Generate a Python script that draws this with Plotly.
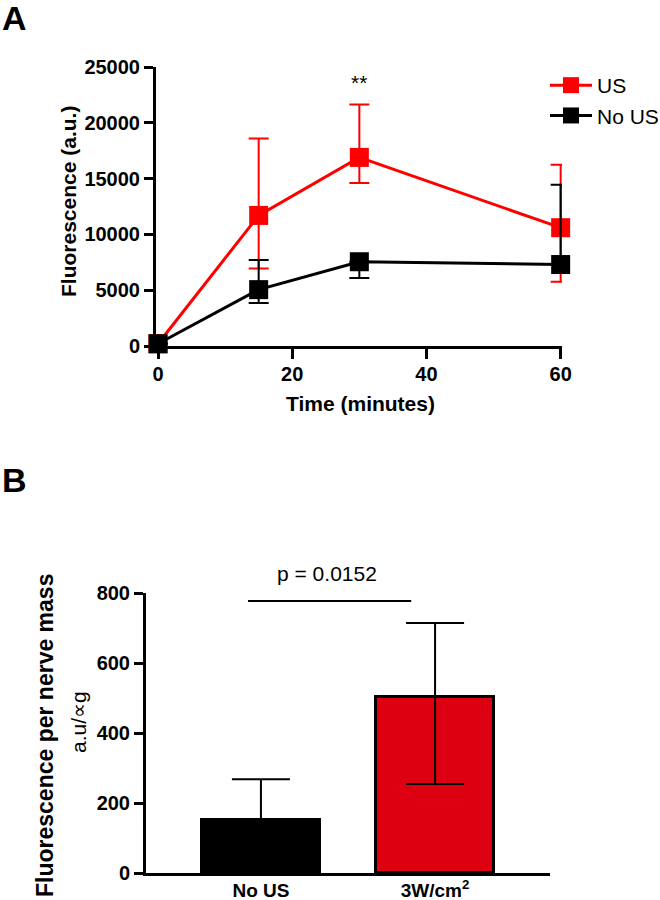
import plotly.graph_objects as go

# ---- Panel A data ----
time_min = [0, 15, 30, 60]
us_mean = [200, 11700, 16900, 10600]
us_err_plus = [0, 6900, 4750, 5650]
us_err_minus = [0, 4750, 2300, 4850]
nous_mean = [200, 5050, 7550, 7300]
nous_err_plus = [0, 2650, 0, 7150]
nous_err_minus = [0, 1200, 1450, 0]

# ---- Panel B data ----
groups = ["No US", "3W/cm<sup>2</sup>"]
bar_values = [151, 503]
bar_err_plus = [117, 211]
bar_err_minus = [117, 249]
bar_colors = ["#000000", "#DC0010"]

W, H = 660, 900
FONT = "Arial, Liberation Sans, sans-serif"
RED = "#FF0000"

def px_x(p):
    return p / W

def px_y(p):
    return (H - p) / H

fig = go.Figure()

fig.add_trace(go.Scatter(
    x=time_min, y=us_mean, name="US", mode="lines+markers",
    line=dict(color=RED, width=3),
    marker=dict(symbol="square", size=19, color=RED),
    error_y=dict(type="data", symmetric=False, array=us_err_plus,
                 arrayminus=us_err_minus, color=RED, thickness=2, width=10),
    cliponaxis=False, xaxis="x", yaxis="y", legendgroup="a",
))
fig.add_trace(go.Scatter(
    x=time_min, y=nous_mean, name="No US", mode="lines+markers",
    line=dict(color="#000000", width=3),
    marker=dict(symbol="square", size=19, color="#000000"),
    error_y=dict(type="data", symmetric=False, array=nous_err_plus,
                 arrayminus=nous_err_minus, color="#000000", thickness=2, width=10),
    cliponaxis=False, xaxis="x", yaxis="y", legendgroup="b",
))

fig.add_trace(go.Bar(
    x=groups, y=bar_values, width=0.68,
    marker=dict(color=bar_colors, line=dict(color="#000000", width=3)),
    error_y=dict(type="data", symmetric=False, array=bar_err_plus,
                 arrayminus=bar_err_minus, color="#000000", thickness=2, width=29),
    showlegend=False, cliponaxis=False, xaxis="x2", yaxis="y2",
))

def axis_common(size=20):
    return dict(showline=True, linewidth=3, linecolor="#000000",
                showgrid=False, zeroline=False, automargin=False,
                tickfont=dict(family=FONT, size=size, color="#000000", weight="bold"))

def ann(text, x, y, size, angle=0, xref="paper"):
    return dict(text=text, x=x, y=y, xref=xref, yref="paper", showarrow=False,
                xanchor="center", yanchor="middle", textangle=angle,
                font=dict(size=size, family=FONT, color="#000000"))

fig.update_layout(
    template="none",
    width=W, height=H,
    margin=dict(l=0, r=0, t=0, b=0, pad=0, autoexpand=False),
    paper_bgcolor="white", plot_bgcolor="white",
    font=dict(family=FONT, color="#000000"),
    bargap=0,
    xaxis=dict(domain=[px_x(156), px_x(562)], range=[-0.3, 60.2],
               tickvals=[0, 20, 40, 60], ticks="outside", ticklen=10, tickwidth=3,
               tickcolor="#000000", anchor="y", ticklabelstandoff=-2, **axis_common()),
    yaxis=dict(domain=[px_y(346), px_y(67)], range=[0, 25000],
               tickvals=[0, 5000, 10000, 15000, 20000, 25000], tickformat="d",
               ticks="outside", ticklen=9, tickwidth=3, tickcolor="#000000",
               anchor="x", **axis_common()),
    xaxis2=dict(domain=[px_x(146), px_x(550)], range=[-0.66, 1.66],
                ticks="", anchor="y2", type="category", ticklabelstandoff=-2,
                **axis_common(19)),
    yaxis2=dict(domain=[px_y(873), px_y(593)], range=[0, 800],
                tickvals=[0, 200, 400, 600, 800],
                ticks="outside", ticklen=9, tickwidth=3, tickcolor="#000000",
                anchor="x2", **axis_common()),
    legend=dict(x=px_x(545), y=px_y(65), xanchor="left", yanchor="top",
                font=dict(family=FONT, size=21, color="#000000"),
                bgcolor="rgba(0,0,0,0)", borderwidth=0, tracegroupgap=0,
                traceorder="grouped", itemwidth=42),
    shapes=[dict(type="line", xref="x2", yref="y2", x0=-0.074, x1=0.863,
                 y0=777, y1=777, line=dict(color="#000000", width=2))],
    annotations=[
        ann("<b>A</b>", px_x(14), px_y(18), 34),
        ann("<b>B</b>", px_x(14), px_y(480), 34),
        ann("<b>Fluorescence (a.u.)</b>", px_x(68), px_y(202), 21, -90),
        ann("<b>Time (minutes)</b>", px_x(360), px_y(403), 21),
        ann("**", 30, px_y(82), 21, xref="x"),
        ann("<b>Fluorescence per nerve mass</b>", px_x(45), px_y(736), 23, -90),
        ann("a.u/\u221dg", px_x(78), px_y(722), 21, -90),
        ann("p = 0.0152", px_x(327), px_y(573), 21),
    ],
)

fig.write_html("out.html", config={"displayModeBar": False},
               post_script="document.body.style.margin='0';document.body.style.padding='0';")
